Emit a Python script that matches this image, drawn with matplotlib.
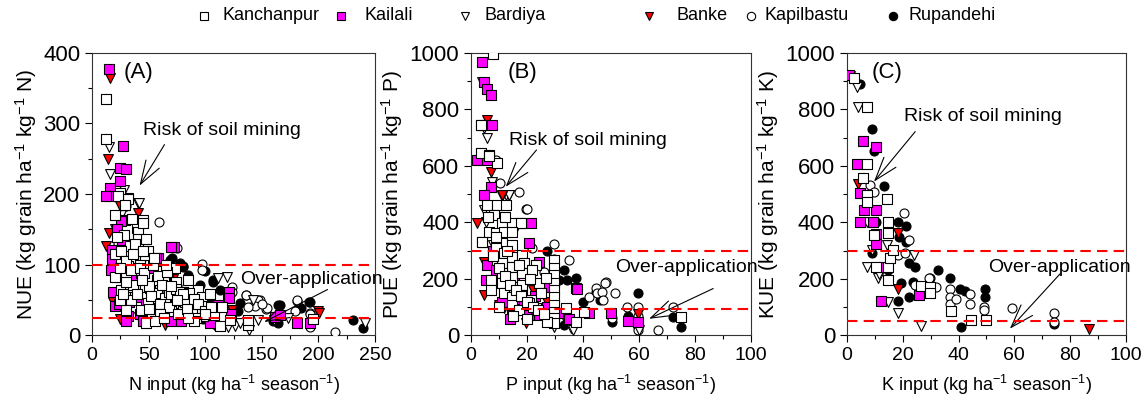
import numpy as np
import matplotlib
matplotlib.use("Agg")
import matplotlib.pyplot as plt
from matplotlib import font_manager
from matplotlib.lines import Line2D

names = {f.name for f in font_manager.fontManager.ttflist}
narrow = "Liberation Sans Narrow" if "Liberation Sans Narrow" in names else "Liberation Sans"
plt.rcParams["font.family"] = ["Liberation Sans", "DejaVu Sans"]
plt.rcParams["mathtext.fontset"] = "custom"
plt.rcParams["mathtext.rm"] = "Liberation Sans"
plt.rcParams["mathtext.default"] = "regular"

districts = ["Kanchanpur", "Kailali", "Bardiya", "Banke", "Kapilbastu", "Rupandehi"]

# ---- panel A: N input vs NUE ----
a_kan_x = [12.6, 12.6, 31.8, 24.4, 31.5, 45.3, 39.5, 23, 28.9, 40.6, 45, 49.5, 40.6, 33.3, 25.9, 37.7,
           46.5, 59.8, 20, 30.3, 43.6, 52.4, 67, 74.5, 85, 93.6, 25.9, 37.7, 46.5, 57, 64.2, 76, 85,
           97, 98, 98, 34.7, 49.5, 59.8, 43.6, 55.4, 70, 80.4, 90.7, 108, 113, 121.6, 30.3, 24.4, 33.3,
           64, 73, 31.8, 40.6, 48, 51, 57, 138, 138, 195.5, 20, 28, 36, 53, 62, 68, 88, 104, 115, 27, 42,
           22, 26, 30, 34, 38, 42, 46, 50, 54, 58, 62, 66, 70, 74, 78, 82, 86, 90, 94, 100,
           105, 36, 44, 52, 60, 68, 76, 84, 92, 30, 40, 50, 60, 70, 80, 90, 100, 35, 45, 55, 65, 75, 85,
           20, 25, 48, 56, 64]
a_kan_y = [334, 278, 195, 202, 193, 164, 152, 197, 185, 147, 159, 119, 136, 126, 110, 110,
           105, 91, 83, 88, 88, 81, 88, 76, 79, 65, 65, 65, 69, 60, 53, 46, 50,
           55, 41, 27, 50, 46, 41, 36, 29, 34, 34, 36, 29, 13, 22, 36, 50, 69,
           76, 95, 98, 124, 136, 100, 79, 15, 22, 24, 115, 142, 72, 23, 40, 62, 30, 58, 40, 58, 100,
           140, 120, 105, 92, 130, 95, 88, 70, 100, 84, 72, 90, 58, 66, 62, 48, 60, 52, 44, 35,
           40, 115, 78, 56, 45, 40, 30, 38, 25, 75, 58, 38, 30, 70, 58, 20, 30, 165, 120, 110, 100, 50, 25,
           170, 95, 18, 20, 25]
a_kai_x = [15.1, 27, 25, 30.2, 15.7, 15.7, 25, 28.7, 26.4, 72, 58.4, 12.7, 25.9, 69.5, 17.7, 56.8,
           18.6, 20, 31.8, 42, 45, 59.8, 70, 79, 87.7, 98, 104, 111, 120, 123, 71.6, 17, 24.4, 37.7,
           51, 64, 33, 27.4, 80, 55.4, 121, 121, 161.6, 166, 180.8, 192.6,
           22, 28, 35, 40, 48, 55, 62, 75, 85, 95, 30, 45, 65, 90, 18, 24]
a_kai_y = [377, 268, 237, 235, 209, 197, 218, 164, 135, 125, 109, 197, 162, 125, 121, 110,
           62, 41, 28, 31, 21, 27, 20, 21, 43, 46, 17, 43, 53, 31, 55, 93, 83, 81,
           67, 65, 48, 60, 62, 39, 62, 53, 26, 29, 18, 18,
           150, 105, 70, 55, 45, 85, 35, 45, 30, 35, 20, 90, 48, 58, 108, 45]
a_bar_x = [14.7, 15.6, 40.9, 28.3, 119, 41.8, 25.9, 111, 71.5, 115.7, 126, 49.5, 142.5, 130.7, 139,
           172.9, 146.9, 241, 120.4, 161, 20, 35, 60, 90]
a_bar_y = [267, 228, 188, 206, 83, 188, 171, 81, 41, 13, 13, 62, 50, 17, 8,
           25, 22, 18, 12, 22, 150, 120, 30, 25]
a_ban_x = [15.9, 14.4, 12.4, 15, 24.7, 40.9, 39.5, 18.8, 45.3, 64.5, 123.4, 200, 36.5, 30.6, 24.7,
           41.8, 71.8, 82, 123.4, 200.8]
a_ban_y = [364, 249, 126, 145, 183, 173, 157, 48, 17, 15, 36, 34, 125, 98, 24,
           26, 80, 53, 36, 31.5]
a_kap_x = [59, 74.8, 97, 97, 124, 136, 144, 154, 148, 180.8, 192.6, 214.7, 48.3, 30, 23, 135.7,
           146.9, 143.9, 154.3, 138, 181, 179, 192.6, 123.4, 149.9, 192.6]
a_kap_y = [160, 124, 101, 93, 69, 57, 46, 37, 50, 49, 31.5, 5.4, 19.6, 183, 131, 57,
           50, 41, 39, 40, 50, 34, 31, 62, 44, 12.5]
a_rup_x = [70.4, 77.7, 80.7, 107, 113, 130.7, 164.6, 192.6, 184.6, 230.8, 239.7, 98, 68.6, 80.4,
           99.5, 107, 101, 110, 166, 192, 183, 164.6, 129.3, 160,
           60, 65, 75, 85, 90, 95, 72, 88, 104, 58]
a_rup_y = [110, 103, 98, 76, 64, 46, 43, 48, 38.6, 22, 10, 23, 107, 97,
           91, 79, 50, 13, 43, 47, 40, 18, 34, 20,
           95, 80, 70, 85, 60, 72, 55, 40, 55, 30]

# ---- panel B: P input vs PUE ----
b_kan_x = [7.7, 3.5, 3.5, 6.5, 9.4, 4.0, 17.5, 5.8, 9.4, 12.4, 8.2, 11.2, 14.8, 17.7, 6.4, 8.8, 11.8,
           14.8, 4.0, 11.2, 14.8, 8.8, 11.8, 14.8, 18.3, 11.2, 14.8, 19, 23.1, 11.2, 14.8, 18.3, 21.9,
           29.6, 29.6, 29.6, 29.6, 29.6, 29.6, 29.6, 29.6, 29.6, 29.6, 7.0, 11.2, 14.8, 18.3, 24.3,
           26.7, 11.8, 14.8, 18.3, 21.3, 7.0, 14.8, 20.7, 17.1, 23.1, 33.8, 37.4, 40.4, 27.3, 75.1,
           6.4, 3.5,
           8, 10, 12, 14, 16, 18, 20, 22, 24, 26, 9, 13, 17, 21, 25, 10, 15, 20, 6, 12]
b_kan_y = [995, 744, 646, 638, 611, 332, 399, 461, 461, 461, 426, 397, 397, 397, 367, 361, 367,
           367, 332, 326, 320, 308, 290, 279, 285, 255, 243, 255, 249, 220, 208, 220, 232,
           267, 237, 214, 184, 161, 137, 108, 84, 61, 43, 196, 184, 173, 178, 184,
           202, 149, 137, 143, 125, 161, 108, 114, 90, 96, 96, 49, 84, 49, 64,
           635, 744,
           280, 240, 210, 180, 160, 140, 120, 100, 90, 75, 350, 300, 250, 200, 150, 100, 70, 60, 420, 420]
b_kai_x = [4.0, 4.6, 5.8, 7.0, 7.6, 2.3, 5.8, 7.0, 4.6, 21.3, 20.7, 5.8, 5.2, 24.3, 15.4, 11.2, 14.8,
           24.3, 37.4, 42.1, 20.7, 26, 17.7, 50, 56.2, 59.8, 38, 12.5,
           9, 12, 16, 19, 23, 27, 14, 8, 31, 35]
b_kai_y = [968, 898, 870, 852, 744, 621, 621, 526, 496, 397, 326, 249, 196, 261, 202, 120, 72,
           72, 167, 78, 72, 173, 272, 81, 52, 49, 166, 300,
           230, 170, 130, 110, 140, 100, 60, 300, 80, 60]
b_bar_x = [4.0, 4.6, 5.8, 7.6, 12.4, 13.6, 13.6, 4.6, 5.2, 35.6, 29.6, 60, 36.3, 8, 16]
b_bar_y = [898, 732, 697, 544, 496, 496, 497, 444, 402, 25, 31, 20, 20, 320, 380]
b_ban_x = [5.8, 7.0, 11.2, 2.3, 11.2, 4.6, 4.6, 10, 11.8, 19.5, 27.3, 29.6, 33.2, 59.8, 12.5, 22]
b_ban_y = [762, 579, 494, 397, 497, 261, 143, 108, 96, 43, 120, 220, 67, 76, 150, 160]
b_kap_x = [17.1, 8.8, 19.5, 29.6, 48.1, 44.5, 42.1, 45.1, 35, 26, 21.9, 47.9, 46.7, 47.3, 51.4,
           55.6, 59.8, 59.8, 59.8, 59.8, 59.8, 66.9, 72.3, 50.2, 20, 10.5]
b_kap_y = [508, 621, 449, 322, 190, 167, 137, 149, 267, 226, 308, 187, 155, 126, 149,
           102, 100, 69, 49, 31, 19, 19, 102, 61, 447, 540]
b_rup_x = [29.6, 33.2, 37.4, 31.5, 34.4, 33.2, 44.5, 59.8, 46, 50.2, 56.2, 72.1, 75.1, 27, 40]
b_rup_y = [272, 232, 202, 196, 196, 37, 155, 149, 126, 49, 69, 67, 31, 300, 120]

# ---- panel C: K input vs KUE ----
c_kan_x = [2.6, 7.3, 7.3, 5.8, 7.1, 7.3, 14.5, 9.7, 14.8, 14.8, 10.5, 14.7, 14.7, 15.4, 16.4, 26.5,
           29.8, 29.8, 37.2, 44.6, 49.9]
c_kan_y = [910, 807, 605, 557, 498, 471, 483, 354, 403, 362, 243, 243, 196, 273, 302, 174,
           172, 151, 87, 56, 56]
c_kai_x = [0.8, 5.6, 3.7, 10.5, 4.6, 6.0, 10.4, 4.7, 9.2, 10.5, 10.5, 12.6, 12.4, 25.9]
c_kai_y = [922, 688, 606, 668, 504, 445, 445, 403, 403, 359, 324, 243, 122, 144]
c_bar_x = [3.8, 4.0, 7.3, 8.9, 11.1, 14.7, 14.5, 18.3, 26.7, 23.9, 7.3, 11.5]
c_bar_y = [878, 807, 243, 302, 202, 119, 320, 81, 33, 285, 403, 219]
c_ban_x = [1.2, 4.1, 18.2, 18.2, 86.9]
c_ban_y = [919, 537, 362, 163, 24]
c_kap_x = [8.2, 9.7, 20.6, 22.1, 18.3, 20.7, 24.5, 29.4, 31.8, 37.1, 37.1, 37.1, 39.2, 44.2, 44.2,
           49.3, 49.3, 59.3, 74.1, 74.1]
c_kap_y = [531, 506, 433, 338, 285, 291, 178, 204, 170, 166, 136, 113, 130, 148, 113,
           101, 91, 98, 79, 47]
c_rup_x = [4.7, 9.1, 9.7, 13.2, 10.4, 8.9, 18.3, 21.2, 21.2, 18.8, 22.1, 24.5, 23.6, 19.5, 18.3,
           22.1, 29.8, 32.7, 37.1, 40.4, 42.2, 41.0, 49.5, 49.5, 74.1, 14.7]
c_rup_y = [890, 730, 652, 528, 403, 291, 403, 386, 329, 350, 257, 243, 190, 184, 122,
           136, 205, 231, 204, 166, 158, 30, 163, 136, 41, 231]

styles = {
    "Kanchanpur": dict(marker="s", facecolor="white", s=48),
    "Kailali": dict(marker="s", facecolor="#ff00ff", s=48),
    "Bardiya": dict(marker="v", facecolor="white", s=50),
    "Banke": dict(marker="v", facecolor="#ff0000", s=50),
    "Kapilbastu": dict(marker="o", facecolor="white", s=42),
    "Rupandehi": dict(marker="o", facecolor="black", s=42),
}
draw_order = ["Rupandehi", "Kapilbastu", "Bardiya", "Banke", "Kailali", "Kanchanpur"]

panels = [
    dict(label="(A)", lx=0.11, data={
        "Kanchanpur": (a_kan_x, a_kan_y), "Kailali": (a_kai_x, a_kai_y), "Bardiya": (a_bar_x, a_bar_y),
        "Banke": (a_ban_x, a_ban_y), "Kapilbastu": (a_kap_x, a_kap_y), "Rupandehi": (a_rup_x, a_rup_y)},
        xlim=250, xmajor=50, xminor=25, ylim=400, ymajor=100, yminor=50, hlines=[100, 25],
        ylabel="NUE (kg grain ha$^{-1}$ kg$^{-1}$ N)", xlabel="N input (kg ha$^{-1}$ season$^{-1}$)",
        risk_txt=(45, 290), risk_from=(64, 270), risk_to=(42, 212),
        over_txt=(131, 79), over_from=(208, 65), over_to=(152, 19)),
    dict(label="(B)", lx=0.13, data={
        "Kanchanpur": (b_kan_x, b_kan_y), "Kailali": (b_kai_x, b_kai_y), "Bardiya": (b_bar_x, b_bar_y),
        "Banke": (b_ban_x, b_ban_y), "Kapilbastu": (b_kap_x, b_kap_y), "Rupandehi": (b_rup_x, b_rup_y)},
        xlim=100, xmajor=20, xminor=10, ylim=1000, ymajor=200, yminor=100, hlines=[300, 95],
        ylabel="PUE (kg grain ha$^{-1}$ kg$^{-1}$ P)", xlabel="P input (kg ha$^{-1}$ season$^{-1}$)",
        risk_txt=(13.5, 691), risk_from=(23.4, 656), risk_to=(12.4, 526),
        over_txt=(51.5, 242), over_from=(86.5, 166), over_to=(63.6, 59)),
    dict(label="(C)", lx=0.09, data={
        "Kanchanpur": (c_kan_x, c_kan_y), "Kailali": (c_kai_x, c_kai_y), "Bardiya": (c_bar_x, c_bar_y),
        "Banke": (c_ban_x, c_ban_y), "Kapilbastu": (c_kap_x, c_kap_y), "Rupandehi": (c_rup_x, c_rup_y)},
        xlim=100, xmajor=20, xminor=10, ylim=1000, ymajor=200, yminor=100, hlines=[300, 50],
        ylabel="KUE (kg grain ha$^{-1}$ kg$^{-1}$ K)", xlabel="K input (kg ha$^{-1}$ season$^{-1}$)",
        risk_txt=(20.3, 773), risk_from=(24.5, 721), risk_to=(9.7, 544),
        over_txt=(50.7, 239), over_from=(76.5, 219), over_to=(58.4, 24)),
]

fig = plt.figure(figsize=(11.46, 4.04), dpi=100)
lefts = [0.0803, 0.411, 0.739]
widths = [0.247, 0.2443, 0.2435]

for p, left, w in zip(panels, lefts, widths):
    ax = fig.add_axes([left, 0.1696, w, 0.70])
    for d in draw_order:
        xs, ys = p["data"][d]
        st = styles[d]
        ax.scatter(xs, ys, marker=st["marker"], s=st["s"], facecolor=st["facecolor"],
                   edgecolor="black", linewidth=0.8, zorder=3)
    for h in p["hlines"]:
        ax.axhline(h, color="#ff0000", linestyle=(0, (5, 3)), linewidth=1.5, zorder=4)
    ax.set_xlim(0, p["xlim"])
    ax.set_ylim(0, p["ylim"])
    ax.set_xticks(np.arange(0, p["xlim"] + 1, p["xmajor"]))
    ax.set_xticks(np.arange(0, p["xlim"] + 1, p["xminor"]), minor=True)
    ax.set_yticks(np.arange(0, p["ylim"] + 1, p["ymajor"]))
    ax.set_yticks(np.arange(0, p["ylim"] + 1, p["yminor"]), minor=True)
    ax.tick_params(which="major", direction="out", length=5, width=0.8)
    ax.tick_params(which="minor", direction="out", length=3, width=0.8)
    ax.tick_params(axis="y", labelsize=16)
    ax.tick_params(axis="x", labelsize=14)
    for t in ax.get_xticklabels():
        t.set_family(narrow)
    for sp in ax.spines.values():
        sp.set_linewidth(0.8)
        sp.set_color("#333333")
    ax.set_ylabel(p["ylabel"], fontsize=15, labelpad=3)
    ax.set_xlabel(p["xlabel"], fontsize=13, family=narrow, labelpad=6)
    ax.text(p["lx"], 0.93, p["label"], transform=ax.transAxes, fontsize=16, va="center")
    ax.annotate("Risk of soil mining", xy=p["risk_to"], xytext=p["risk_txt"], fontsize=14,
                va="center", ha="left", annotation_clip=False)
    ax.annotate("", xy=p["risk_to"], xytext=p["risk_from"],
                arrowprops=dict(arrowstyle="->,head_length=1.2,head_width=0.4", color="black",
                                lw=0.8, shrinkA=0, shrinkB=0, mutation_scale=14))
    ax.annotate("Over-application", xy=p["over_to"], xytext=p["over_txt"], fontsize=14,
                va="center", ha="left", annotation_clip=False)
    ax.annotate("", xy=p["over_to"], xytext=p["over_from"],
                arrowprops=dict(arrowstyle="->,head_length=1.2,head_width=0.4", color="black",
                                lw=0.8, shrinkA=0, shrinkB=0, mutation_scale=14))

# legend across the top
leg_marker_x = [204, 341, 465, 649, 751, 893]
leg_text_x = [222, 364, 484, 677, 764, 908]
for d, mx, tx in zip(districts, leg_marker_x, leg_text_x):
    st = styles[d]
    fig.add_artist(Line2D([mx / 1146], [1 - 16 / 404], transform=fig.transFigure, marker=st["marker"],
                          markersize=6, markerfacecolor=st["facecolor"], markeredgecolor="black",
                          markeredgewidth=0.8, linestyle="none"))
    fig.text(tx / 1146, 1 - 16 / 404, d, fontsize=13, family=narrow, va="center", ha="left")

fig.savefig("out.png", dpi=100)
